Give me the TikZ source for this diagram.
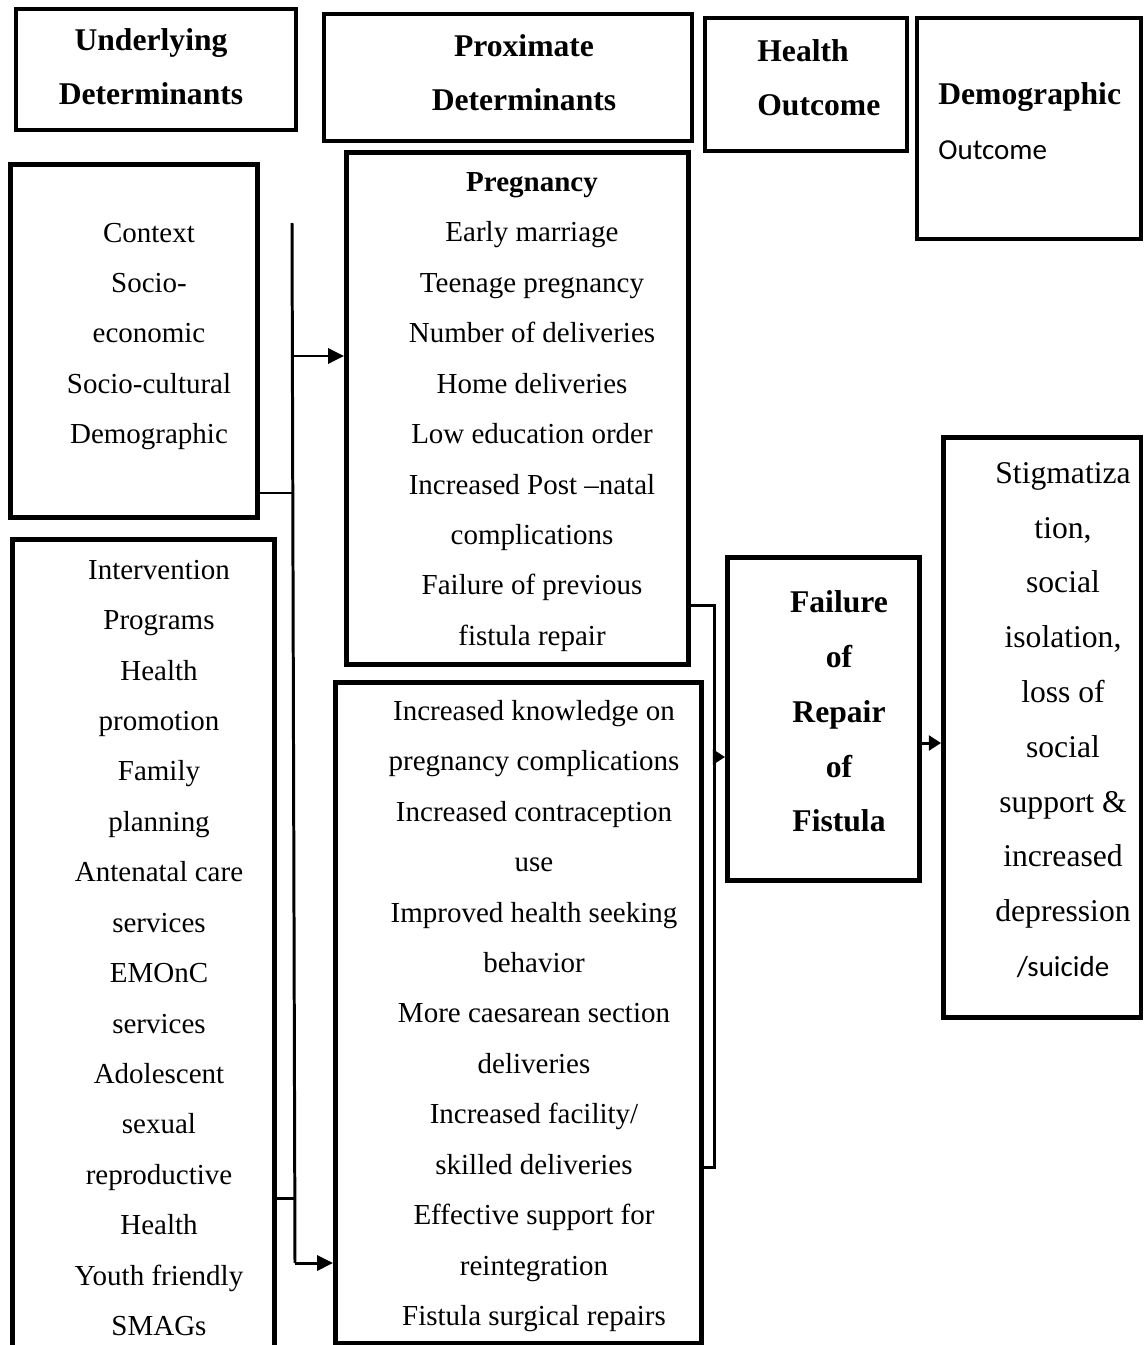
\documentclass[tikz,border=0pt]{standalone}
\usepackage{fontspec}
\setmainfont{Liberation Serif}
\setsansfont{Carlito}
\usetikzlibrary{arrows.meta,fit}
\tikzset{
	box/.style={draw, line width=2.8pt, inner sep=0pt},
	body/.style={inner sep=0pt, align=center, font=\fontsize{16.5}{28.7}\selectfont},
	bodybig/.style={inner sep=0pt, align=center, font=\fontsize{18}{31.2}\selectfont},
	head/.style={inner sep=0pt, align=center, font=\bfseries\fontsize{18}{30.6}\selectfont},
	link/.style={line width=1.7pt},
	arr/.style={link, -{Triangle[length=9pt,width=8.5pt]}},
	arrsmall/.style={link, -{Triangle[length=7pt,width=8.5pt]}}
}

\begin{document}
\begin{tikzpicture}[x=0.02cm, y=-0.02cm]
		\clip (0,0) rectangle (1144,1345);
		
		% headers
		\node[box, fit={(16,9) (296,130)}] (uhead) {};
		\node[head] (uhead-t) at (151,67) {Underlying\\Determinants};
		
		\node[box, fit={(324,14) (692,141)}] (phead) {};
		\node[head] (phead-t) at (524,72.5) {Proximate\\Determinants};
		
		\node[box, fit={(705,18) (907,151)}] (hhead) {};
		\node[head, anchor=west, align=left] (hhead-t) at (757,77.5) {Health\\Outcome};
		
		\node[box, fit={(917,18) (1141,239)}] (dhead) {};
		\node[anchor=west, align=left, inner sep=0pt, font=\fontsize{18}{31.2}\selectfont] (dhead-t) at (938,121.5)
			{{\bfseries Demographic}\\{\sffamily\fontsize{16.5}{31.2}\selectfont Outcome}};
		
		% left column
		\node[box, fit={(10.5,164.5) (257.5,517.5)}] (ctx) {};
		\node[body] (ctx-t) at (149,336.5) {Context\\Socio-\\economic\\Socio-cultural\\Demographic};
		
		\node[box, fit={(12.5,539.5) (274.5,1360)}] (intv) {};
		\node[body] (intv-t) at (159,948) {Intervention\\Programs\\Health\\promotion\\Family\\planning\\Antenatal care\\services\\EMOnC\\services\\Adolescent\\sexual\\reproductive\\Health\\Youth friendly\\SMAGs};
		
		% middle column
		\node[box, fit={(346.5,152.5) (688.5,664.5)}] (preg) {};
		\node[body] (preg-t) at (532,412) {\textbf{Pregnancy}\\Early marriage\\Teenage pregnancy\\Number of deliveries\\Home deliveries\\Low education order\\Increased Post –natal\\complications\\Failure of previous\\fistula repair};
		
		\node[box, fit={(335.5,682.5) (701.5,1343.5)}] (lower) {};
		\node[body] (lower-t) at (534,1016) {Increased knowledge on\\pregnancy complications\\Increased contraception\\use\\Improved health seeking\\behavior\\More caesarean section\\deliveries\\Increased facility/\\skilled deliveries\\Effective support for\\reintegration\\Fistula surgical repairs};
		
		% outcomes
		\node[box, fit={(727.5,557.5) (919.5,880.5)}] (fail) {};
		\node[bodybig, font=\bfseries\fontsize{18}{31.2}\selectfont] (fail-t) at (839,711.5) {Failure\\of\\Repair\\of\\Fistula};
		
		\node[box, fit={(943.5,437.5) (1141,1017.5)}] (stig) {};
		\node[bodybig] (stig-t) at (1063,720) {Stigmatiza\\tion,\\social\\isolation,\\loss of\\social\\support \&\\increased\\depression\\{\sffamily\fontsize{16.5}{31.2}\selectfont /suicide}};
		
		% connectors
		\coordinate (sptop) at (292,223);
		\coordinate (spbot) at (295,1263);
		\coordinate (sp-preg) at (292,356);
		\coordinate (sp-ctx) at (293,493);
		\coordinate (sp-intv) at (294.5,1198);
		\draw[link] (sptop) -- (spbot);
		\draw[link] (ctx.east |- sp-ctx) -- (sp-ctx);
		\draw[link] (intv.east |- sp-intv) -- (sp-intv);
		\draw[arr] (sp-preg) -- (preg.west |- sp-preg);
		\draw[arr] (spbot) -- (lower.west |- spbot);
		
		\coordinate (br-top) at (714,605);
		\coordinate (br-mid) at (714,757);
		\coordinate (br-bot) at (714,1167);
		\draw[link] ([xshift=-0.05cm]preg.east |- br-top) -- (br-top) -- (br-bot) -- (lower.east |- br-bot);
		\draw[arrsmall] (br-mid) -- (fail.west |- br-mid);
		
		\coordinate (fs) at (921,743);
		\draw[arrsmall] (fail.east |- fs) -- (stig.west |- fs);
		
	\end{tikzpicture}
\end{document}
